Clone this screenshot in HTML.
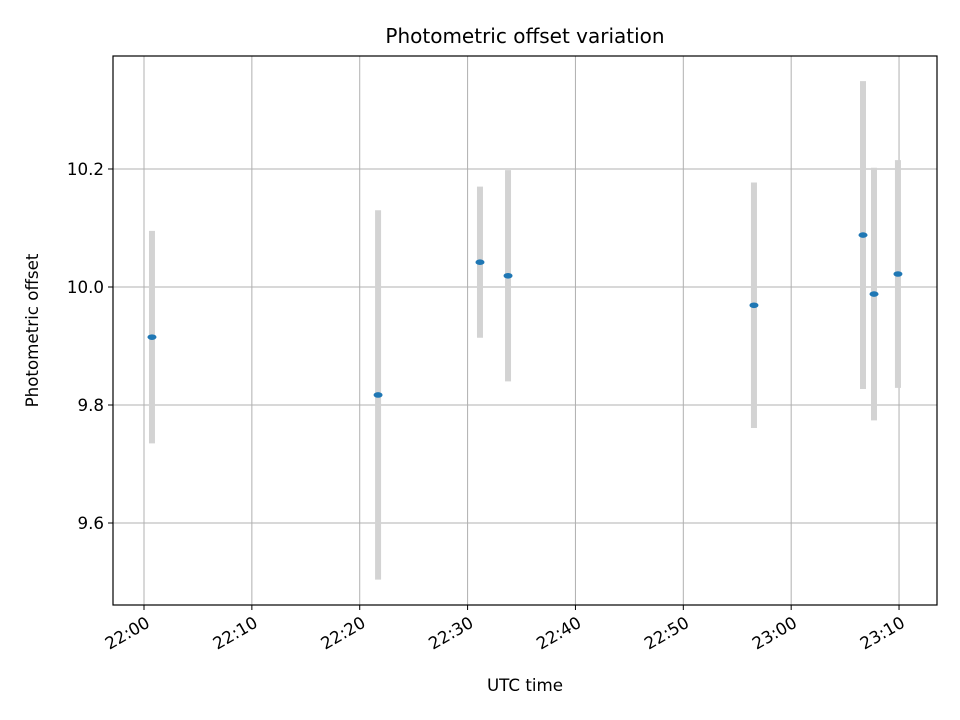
<!DOCTYPE html>
<html><head><meta charset="utf-8"><style>
body{margin:0;background:#fff;}
svg{display:block;font-family:"DejaVu Sans","Liberation Sans",sans-serif;}
</style></head><body>
<svg id="chart" width="960" height="720"></svg>
<script>
const timeMinutes=[0.74,21.7,31.15,33.75,56.55,66.66,67.68,69.9];
const offsets=[9.915,9.817,10.042,10.019,9.969,10.088,9.988,10.022];
const errors=[0.18,0.313,0.128,0.179,0.208,0.261,0.214,0.193];
const xTickMinutes=[0,10,20,30,40,50,60,70];
const xTickLabels=["22:00","22:10","22:20","22:30","22:40","22:50","23:00","23:10"];
const yTicks=[9.6,9.8,10.0,10.2];
const yTickLabels=["9.6","9.8","10.0","10.2"];

const L=113,R=937,T=56,B=605;
const xMin=-2.874,xMax=73.52,yMin=9.461,yMax=10.3915;
const sx=m=>L+(m-xMin)/(xMax-xMin)*(R-L);
const sy=v=>B-(v-yMin)/(yMax-yMin)*(B-T);
const svg=document.getElementById('chart');
const NS='http://www.w3.org/2000/svg';
function mk(tag,attrs,parent){const e=document.createElementNS(NS,tag);for(const k in attrs)e.setAttribute(k,attrs[k]);(parent||svg).appendChild(e);return e;}

const grid=mk('g',{});


xTickMinutes.forEach(m=>{const l=mk('line',{x1:sx(m),x2:sx(m),y1:T,y2:B,stroke:'#b0b0b0','stroke-width':1},grid);

});
yTicks.forEach(v=>{const l=mk('line',{x1:L,x2:R,y1:sy(v),y2:sy(v),stroke:'#b0b0b0','stroke-width':1},grid);

});

timeMinutes.forEach((m,i)=>{
const eb=mk('line',{x1:sx(m),x2:sx(m),y1:sy(offsets[i]+errors[i]),y2:sy(offsets[i]-errors[i]),stroke:'#d3d3d3','stroke-width':6});


});
timeMinutes.forEach((m,i)=>{
const p=mk('ellipse',{cx:sx(m),cy:sy(offsets[i]),rx:4.5,ry:2.8,fill:'#1f77b4'});


});

const frame=mk('rect',{x:L,y:T,width:R-L,height:B-T,fill:'none',stroke:'#000','stroke-width':1.2});



xTickMinutes.forEach((m,i)=>{
const x=sx(m);
const t=mk('line',{x1:x,x2:x,y1:B,y2:B+5,stroke:'#000'});


const ax=x+7,ay=B+21;
const tx=mk('text',{x:ax,y:ay,'font-size':16.7,'text-anchor':'end',transform:`rotate(-30 ${ax} ${ay})`});
tx.textContent=xTickLabels[i];


});
yTicks.forEach((v,i)=>{
const y=sy(v);
const t=mk('line',{x1:L-5,x2:L,y1:y,y2:y,stroke:'#000'});


const tx=mk('text',{x:L-9,y:y+6,'font-size':16.7,'text-anchor':'end'});
tx.textContent=yTickLabels[i];


});

const title=mk('text',{x:(L+R)/2,y:43,'font-size':20,'text-anchor':'middle'});
title.textContent='Photometric offset variation';


const xt=mk('text',{x:(L+R)/2,y:691,'font-size':16.7,'text-anchor':'middle'});
xt.textContent='UTC time';


const yt=mk('text',{x:38,y:(T+B)/2,'font-size':16.7,'text-anchor':'middle',transform:`rotate(-90 38 ${(T+B)/2})`});
yt.textContent='Photometric offset';


</script>
</body></html>
